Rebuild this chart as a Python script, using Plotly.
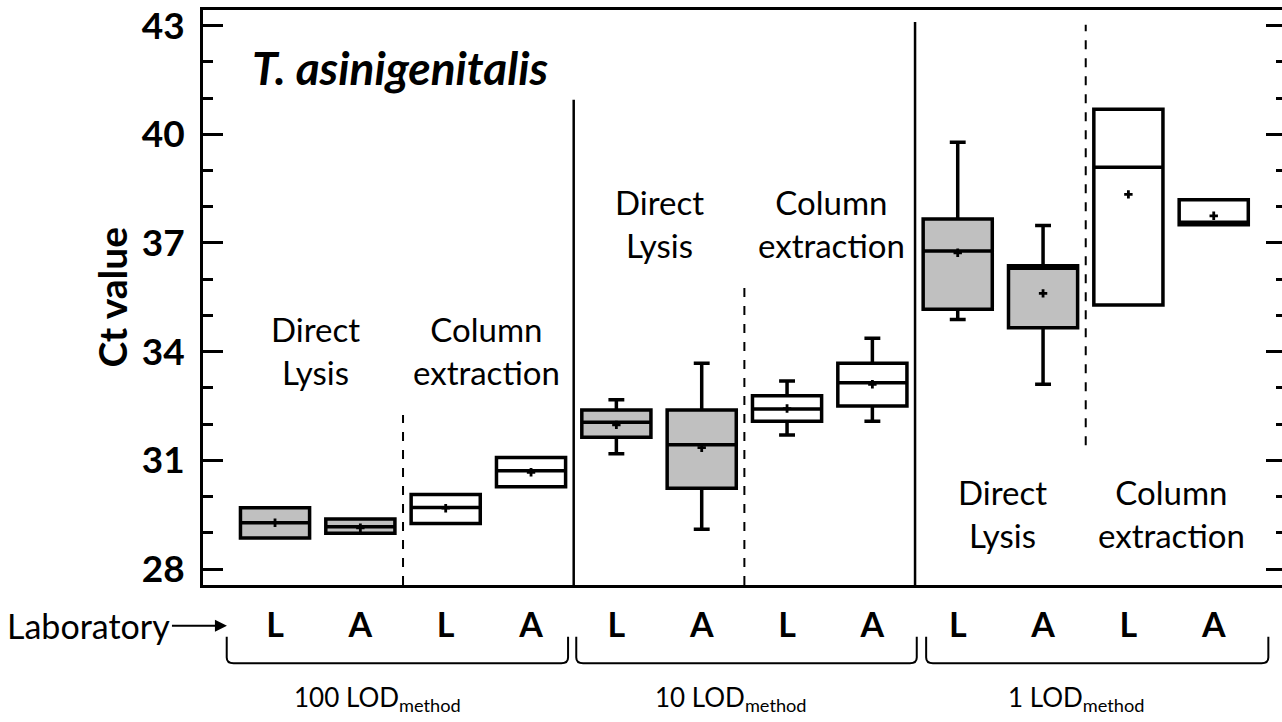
import plotly.graph_objects as go

# ---------------- data ----------------
lab_labels = ["L", "A", "L", "A", "L", "A", "L", "A", "L", "A", "L", "A"]
positions = [1, 2, 3, 4, 5, 6, 7, 8, 9, 10, 11, 12]
is_direct = [True, True, False, False, True, True, False, False, True, True, False, False]

q1 = [28.86, 28.99, 29.26, 30.27, 31.64, 30.23, 32.08, 32.50, 35.17, 34.66, 35.29, 37.50]
median = [29.28, 29.17, 29.70, 30.71, 32.05, 31.43, 32.42, 33.14, 36.78, 36.30, 39.09, 37.57]
q3 = [29.69, 29.38, 30.06, 31.08, 32.39, 32.39, 32.78, 33.68, 37.66, 36.37, 40.69, 38.19]
lower = [28.86, 28.99, 29.26, 30.27, 31.18, 29.10, 31.70, 32.08, 34.89, 33.10, 35.29, 37.50]
upper = [29.69, 29.38, 30.06, 31.08, 32.67, 33.68, 33.19, 34.37, 39.78, 37.48, 40.69, 38.19]
mean = [29.28, 29.14, 29.68, 30.67, 31.98, 31.35, 32.43, 33.10, 36.73, 35.61, 38.34, 37.75]

y_ticks = [28, 31, 34, 37, 40, 43]
y_range = [27.56, 43.43]
x_range = [0.156, 12.80]

group_labels = ["100 LOD<sub>method</sub>", "10 LOD<sub>method</sub>", "1 LOD<sub>method</sub>"]
group_label_x = [2.2, 6.34, 10.39]
group_spans = [(0.434, 4.434), (4.53, 8.52), (8.63, 12.64)]

method_texts = ["Direct<br>Lysis", "Column<br>extraction"] * 3
method_x = [1.48, 3.48, 5.5, 7.52, 9.53, 11.5]
method_y = [34.02, 34.02, 37.54, 37.54, 29.53, 29.53]

sep_x = [2.5, 4.5, 6.5, 8.5, 10.5]
sep_y0 = [27.56, 27.56, 27.56, 27.56, 31.42]
sep_y1 = [32.25, 40.95, 35.98, 43.10, 43.02]
sep_dash = ["dash", "solid", "dash", "solid", "dash"]

FONT = "Lato"
GRAY = "#c0c0c0"

fig = go.Figure()


def sel(lst, flag):
    return [v for v, d in zip(lst, is_direct) if d == flag]


for flag, fill in [(True, GRAY), (False, "white")]:
    fig.add_trace(go.Box(
        x=sel(positions, flag), q1=sel(q1, flag), median=sel(median, flag),
        q3=sel(q3, flag), lowerfence=sel(lower, flag), upperfence=sel(upper, flag),
        width=0.81, whiskerwidth=0.23, fillcolor=fill,
        line=dict(color="black", width=3.5), boxpoints=False,
        showlegend=False, hoverinfo="skip",
    ))

fig.add_trace(go.Scatter(
    x=positions, y=mean, mode="markers",
    marker=dict(symbol="cross", size=7, color="black", line=dict(width=0)),
    showlegend=False, hoverinfo="skip",
))

# y2 axis only for the mirrored inward ticks on the right
fig.add_trace(go.Scatter(x=[positions[0]], y=[y_ticks[0]], yaxis="y2",
                         mode="markers", marker=dict(opacity=0),
                         showlegend=False, hoverinfo="skip"))

for x, a, b, d in zip(sep_x, sep_y0, sep_y1, sep_dash):
    fig.add_shape(type="line", xref="x", yref="y", x0=x, x1=x, y0=a, y1=b,
                  line=dict(color="black", width=2.5 if d == "solid" else 2, dash=d))

# braces under the groups
top_p, bot_p, r = -0.090, -0.136, 0.08
for x0, x1 in group_spans:
    path = (f"M {x0},{top_p} L {x0},{bot_p + 0.01} Q {x0},{bot_p} {x0 + r},{bot_p} "
            f"L {x1 - r},{bot_p} Q {x1},{bot_p} {x1},{bot_p + 0.01} L {x1},{top_p}")
    fig.add_shape(type="path", xref="x", yref="paper", path=path,
                  line=dict(color="black", width=2))

for t, x in zip(group_labels, group_label_x):
    fig.add_annotation(x=x, y=-0.232, xref="x", yref="paper", text=t,
                       showarrow=False, font=dict(family=FONT, size=26, color="black"))

for t, x, y in zip(method_texts, method_x, method_y):
    fig.add_annotation(x=x, y=y, xref="x", yref="y", text=t, showarrow=False,
                       font=dict(family=FONT, size=33, color="black"))

fig.add_annotation(x=0.707, y=41.83, xref="x", yref="y",
                   text="<b><i>T. asinigenitalis</i></b>", showarrow=False,
                   xanchor="left", font=dict(family=FONT, size=46, color="black"))

fig.add_annotation(xref="paper", yref="paper", x=0, y=0.5, xshift=-92,
                   xanchor="center", yanchor="middle",
                   text="<b>Ct value</b>", textangle=-90, showarrow=False,
                   font=dict(family=FONT, size=39, color="black"))

fig.add_annotation(xref="paper", yref="paper", x=0.0222, y=-0.071,
                   ax=-138, ay=0, text="Laboratory", showarrow=True,
                   arrowhead=2, arrowsize=1.2, arrowwidth=2, arrowcolor="black",
                   font=dict(family=FONT, size=34, color="black"))

fig.update_layout(
    width=1282, height=722,
    margin=dict(l=203, r=0, t=10, b=137),
    plot_bgcolor="white", paper_bgcolor="white",
    xaxis=dict(range=x_range, showgrid=False, zeroline=False,
               showline=True, linewidth=3, linecolor="black", mirror=True,
               tickvals=positions, ticktext=[f"<b>{t}</b>" for t in lab_labels],
               ticks="", ticklabelstandoff=8,
               tickfont=dict(family=FONT, size=34, color="black")),
    yaxis=dict(range=y_range, showgrid=False, zeroline=False,
               showline=True, linewidth=3, linecolor="black",
               tickvals=y_ticks, ticktext=[f"<b>{v}</b>" for v in y_ticks],
               ticks="inside", ticklen=20, tickwidth=3, tickcolor="black",
               ticklabelstandoff=8,
               minor=dict(ticks="inside", dtick=1, tick0=28, ticklen=10,
                          tickwidth=3, tickcolor="black"),
               tickfont=dict(family=FONT, size=37, color="black")),
    yaxis2=dict(range=y_range, overlaying="y", side="right", showgrid=False,
                zeroline=False, showline=False, showticklabels=False,
                tickvals=y_ticks, ticks="inside", ticklen=16, tickwidth=3,
                tickcolor="black",
                minor=dict(ticks="inside", dtick=1, tick0=28, ticklen=6,
                           tickwidth=3, tickcolor="black")),
)

fig.write_html("out.html", config={"displayModeBar": False},
               post_script="document.body.style.margin='0';")
